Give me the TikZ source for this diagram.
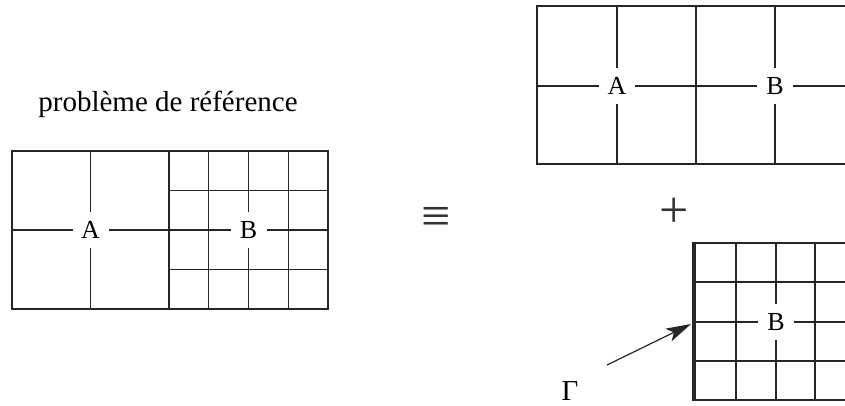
\documentclass[tikz,border=0pt]{standalone}
\usepackage{fontspec}
\setmainfont{Liberation Serif}
\usetikzlibrary{arrows.meta}
\tikzset{
  thin grid/.style={line width=1.2pt, black!85},
  thick edge/.style={line width=2.6pt, black!85},
  heavy edge/.style={line width=4pt, black!85},
  lbl/.style={fill=white, minimum width=36pt, minimum height=36pt, inner sep=0pt, font=\fontsize{26}{30}\selectfont},
  bigtxt/.style={inner sep=0pt, font=\fontsize{29}{33}\selectfont},
  symb/.style={inner sep=0pt, text=black!80, font=\fontsize{52}{56}\selectfont},
}
\begin{document}
\begin{tikzpicture}[x=1pt,y=-1pt]
\useasboundingbox (0,0) rectangle (845,405);
\clip (0,0) rectangle (845,405);
% title
\node[bigtxt] (title) at (168,104) {problème de référence};
% left problem: A part
\draw[thin grid] (12,151) rectangle (328,309);
\draw[thin grid] (12,230) -- (328,230);
\draw[thin grid] (90.5,151) -- (90.5,309);
% B part grid
\foreach \x in {208.75,248.5,288.25} \draw[thin grid] (\x,151) -- (\x,309);
\foreach \y in {190.5,269.5} \draw[thin grid] (169,\y) -- (328,\y);
\draw[thick edge] (169,151) -- (169,309);
\node[lbl] (A1) at (90.5,230) {A};
\node[lbl] (B1) at (248.5,230) {B};
% equivalence
\node[symb] (eq) at (436,220) {≡};
% top right
\draw[thin grid] (855,6) -- (537,6) -- (537,164) -- (855,164);
\foreach \x in {617,696,775} \draw[thin grid] (\x,6) -- (\x,164);
\draw[thin grid] (537,86) -- (855,86);
\node[lbl] (A2) at (617,86) {A};
\node[lbl] (B2) at (775,86) {B};
% plus
\node[symb] (plus) at (674,213) {+};
% bottom right
\draw[thin grid] (855,243) -- (694,243);
\draw[thin grid] (855,400) -- (694,400);
\foreach \x in {736,776,815} \draw[thin grid] (\x,243) -- (\x,400);
\foreach \y in {282,322,361} \draw[thin grid] (694,\y) -- (855,\y);
\draw[heavy edge] (694,242) -- (694,401);
\node[lbl] (B3) at (776,322) {B};
% Gamma
\node[inner sep=0pt, font=\fontsize{29}{33}\selectfont] (G) at (570,390.5) {Γ};
\coordinate (Gs) at (607,365);
\coordinate (Gt) at (691,324);
\draw[line width=1.2pt, black!85, -{Stealth[length=25pt,width=14pt,inset=6pt]}] (Gs) -- (Gt);
\end{tikzpicture}
\end{document}
